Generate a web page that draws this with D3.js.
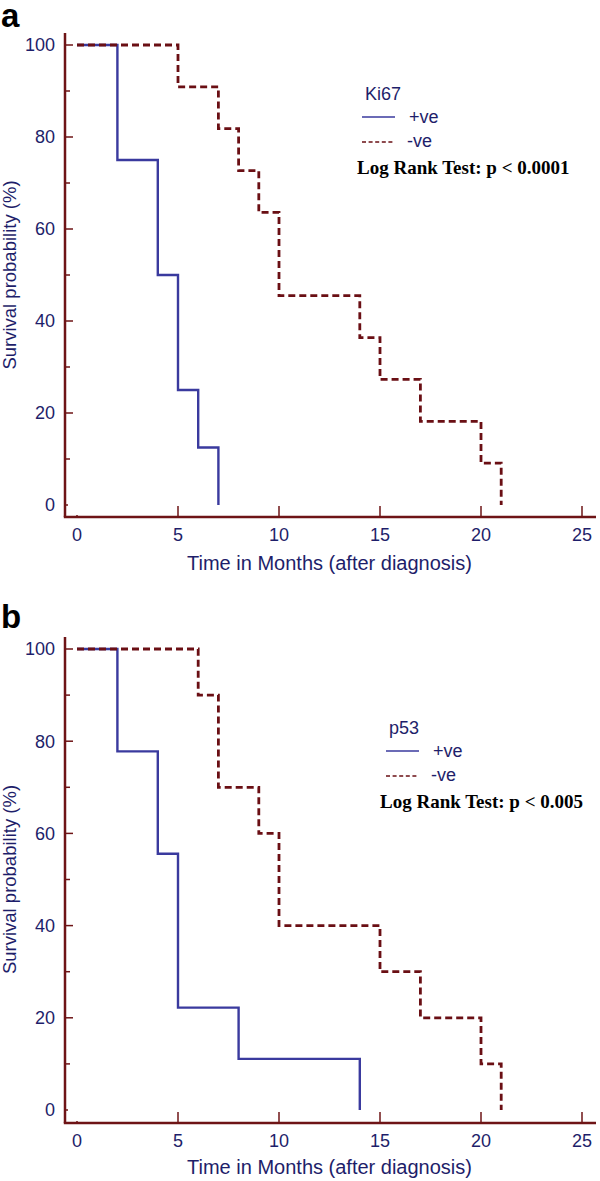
<!DOCTYPE html>
<html>
<head>
<meta charset="utf-8">
<script src="https://cdn.jsdelivr.net/npm/d3@7"></script>
<style>
  html, body { margin: 0; padding: 0; background: #fff; }
  svg { display: block; }
</style>
</head>
<body>
<svg id="chart" width="600" height="1181"></svg>
<script>
// ---- data ----
const xTicks = [0, 5, 10, 15, 20, 25];
const yTicks = [0, 20, 40, 60, 80, 100];
const yMinorTicks = [10, 30, 50, 70, 90];

const ki67PosTime = [0, 2, 4, 5, 6, 7];
const ki67PosSurv = [100, 75, 50, 25, 12.5, 0];
const ki67NegTime = [0, 5, 7, 8, 9, 10, 14, 15, 17, 20, 21];
const ki67NegSurv = [100, 90.9, 81.8, 72.7, 63.6, 45.5, 36.4, 27.3, 18.2, 9.1, 0];

const p53PosTime = [0, 2, 4, 5, 8, 14];
const p53PosSurv = [100, 77.8, 55.6, 22.2, 11.1, 0];
const p53NegTime = [0, 6, 7, 9, 10, 15, 17, 20, 21];
const p53NegSurv = [100, 90, 70, 60, 40, 30, 20, 10, 0];

const panelLabels = ["a", "b"];
const markers = ["Ki67", "p53"];
const seriesLabels = ["+ve", "-ve"];
const tests = ["Log Rank Test: p < 0.0001", "Log Rank Test: p < 0.005"];

// ---- style ----
const AXIS = "#6e1416";
const BLUE = "#3a3a9e";
const RED = "#6a0f14";
const NAVY = "#1e1e6a";
const SANS = "'Liberation Sans', Arial, sans-serif";
const SERIF = "'Liberation Serif', 'Times New Roman', serif";

const svg = d3.select("#chart");

function drawPanel(cfg) {
  const g = svg.append("g");
  const x = d3.scaleLinear().domain([0, 25]).range([77, 582]);
  const y = d3.scaleLinear().domain([0, 100]).range([cfg.y0, cfg.y100]);
  const axisX = 65, axisY = cfg.axisY, axisTop = cfg.axisTop, axisRight = 596;

  // panel label
  g.append("text").attr("x", 1).attr("y", cfg.labelY)
    .attr("font-family", SANS).attr("font-weight", "bold")
    .attr("font-size", 33).attr("fill", "#000").text(cfg.label);

  // axes lines
  g.append("line").attr("x1", axisX).attr("x2", axisX)
    .attr("y1", axisTop).attr("y2", axisY)
    .attr("stroke", AXIS).attr("stroke-width", 2.5);
  g.append("line").attr("x1", axisX - 1.2).attr("x2", axisRight)
    .attr("y1", axisY).attr("y2", axisY)
    .attr("stroke", AXIS).attr("stroke-width", 2.5);

  // y ticks (inward)
  g.selectAll(".ymaj").data(yTicks).join("line")
    .attr("x1", axisX).attr("x2", d => axisX + (d === 0 ? 3 : 8))
    .attr("y1", d => y(d)).attr("y2", d => y(d))
    .attr("stroke", AXIS).attr("stroke-width", 1.5);
  g.selectAll(".ymin").data(yMinorTicks).join("line")
    .attr("x1", axisX).attr("x2", axisX + 5)
    .attr("y1", d => y(d)).attr("y2", d => y(d))
    .attr("stroke", AXIS).attr("stroke-width", 1.5);
  g.selectAll(".ylab").data(yTicks).join("text")
    .attr("x", 55).attr("y", d => y(d)).attr("dy", "0.36em")
    .attr("text-anchor", "end").attr("font-family", SANS)
    .attr("font-size", 18).attr("fill", NAVY).text(d => d);

  // x ticks (inward)
  g.selectAll(".xt").data(xTicks).join("line")
    .attr("x1", d => x(d)).attr("x2", d => x(d))
    .attr("y1", axisY).attr("y2", d => axisY - (d === 0 ? 2 : 11))
    .attr("stroke", AXIS).attr("stroke-width", 1.5);
  g.selectAll(".xlab").data(xTicks).join("text")
    .attr("x", d => x(d)).attr("y", axisY + 24)
    .attr("text-anchor", "middle").attr("font-family", SANS)
    .attr("font-size", 18).attr("fill", NAVY).text(d => d);

  // axis titles
  g.append("text").attr("x", x(12.5)).attr("y", cfg.xTitleY)
    .attr("text-anchor", "middle").attr("font-family", SANS)
    .attr("font-size", 20).attr("fill", NAVY)
    .text("Time in Months (after diagnosis)");
  const ym = (cfg.y0 + cfg.y100) / 2;
  g.append("text").attr("transform", `translate(16,${ym}) rotate(-90)`)
    .attr("text-anchor", "middle").attr("font-family", SANS)
    .attr("font-size", 18.5).attr("fill", NAVY)
    .text("Survival probability (%)");

  // curves
  const line = d3.line().x(d => x(d[0])).y(d => y(d[1])).curve(d3.curveStepAfter);
  const pos = d3.zip(cfg.posTime, cfg.posSurv);
  const neg = d3.zip(cfg.negTime, cfg.negSurv);
  g.append("path").attr("d", line(pos)).attr("fill", "none")
    .attr("stroke", BLUE).attr("stroke-width", 2.4);
  g.append("path").attr("d", line(neg)).attr("fill", "none")
    .attr("stroke", RED).attr("stroke-width", 2.8)
    .attr("stroke-dasharray", "7,4");

  // legend
  const L = cfg.legend;
  g.append("text").attr("x", L.x + 3).attr("y", L.y)
    .attr("font-family", SANS).attr("font-size", 18).attr("fill", NAVY)
    .text(cfg.marker);
  g.append("line").attr("x1", L.x).attr("x2", L.x + 33)
    .attr("y1", L.y + 17).attr("y2", L.y + 17)
    .attr("stroke", BLUE).attr("stroke-width", 1.6);
  g.append("text").attr("x", L.x + 47).attr("y", L.y + 23)
    .attr("font-family", SANS).attr("font-size", 18).attr("fill", NAVY)
    .text(seriesLabels[0]);
  g.append("line").attr("x1", L.x).attr("x2", L.x + 32)
    .attr("y1", L.y + 42).attr("y2", L.y + 42)
    .attr("stroke", RED).attr("stroke-width", 1.6)
    .attr("stroke-dasharray", "4,2.6");
  g.append("text").attr("x", L.x + 45).attr("y", L.y + 47)
    .attr("font-family", SANS).attr("font-size", 18).attr("fill", NAVY)
    .text(seriesLabels[1]);
  g.append("text").attr("x", L.testX).attr("y", L.y + 74)
    .attr("font-family", SERIF).attr("font-weight", "bold")
    .attr("font-size", 19).attr("fill", "#000")
    .text(cfg.test);
}

drawPanel({
  label: panelLabels[0], labelY: 27,
  y100: 45, y0: 505, axisY: 517, axisTop: 33, xTitleY: 570,
  posTime: ki67PosTime, posSurv: ki67PosSurv,
  negTime: ki67NegTime, negSurv: ki67NegSurv,
  marker: markers[0], test: tests[0],
  legend: { x: 362, y: 100, testX: 357 }
});
drawPanel({
  label: panelLabels[1], labelY: 628,
  y100: 649, y0: 1110, axisY: 1123, axisTop: 637, xTitleY: 1174,
  posTime: p53PosTime, posSurv: p53PosSurv,
  negTime: p53NegTime, negSurv: p53NegSurv,
  marker: markers[1], test: tests[1],
  legend: { x: 386, y: 734, testX: 380 }
});
</script>
</body>
</html>
